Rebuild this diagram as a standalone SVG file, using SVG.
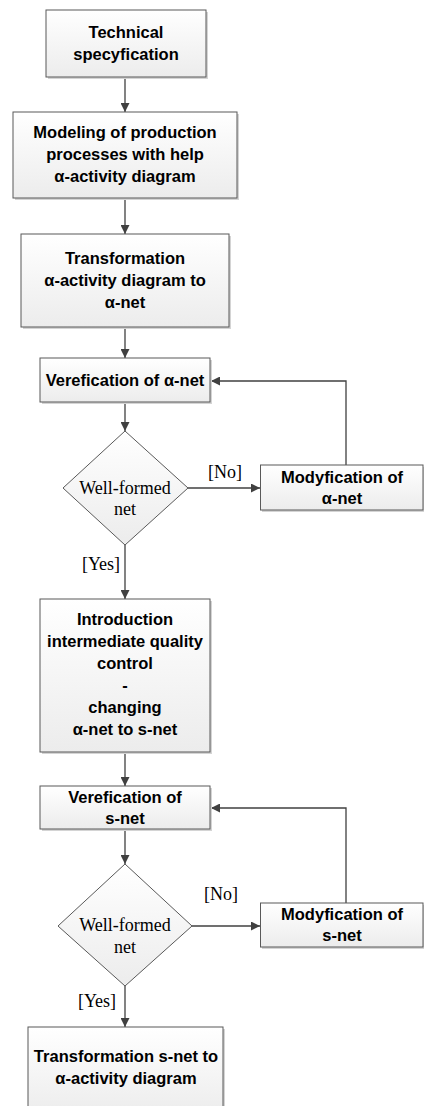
<svg xmlns="http://www.w3.org/2000/svg" width="424" height="1106" viewBox="0 0 424 1106">
<defs>
<linearGradient id="g" x1="0" y1="0" x2="0" y2="1">
<stop offset="0" stop-color="#ffffff"/>
<stop offset="1" stop-color="#ececec"/>
</linearGradient>
<marker id="ah" viewBox="0 0 10 10" refX="10" refY="5" markerWidth="9" markerHeight="9" markerUnits="userSpaceOnUse" orient="auto">
<path d="M0,0 L10,5 L0,10 z" fill="#404040"/>
</marker>
<style>
.box{fill:url(#g);stroke:#595959;stroke-width:1}
.sh{fill:#d4d4d4}
.t{font-family:"Liberation Sans",Arial,sans-serif;font-weight:bold;font-size:16.5px;fill:#000;text-anchor:middle}
.s{font-family:"Liberation Serif","Times New Roman",serif;font-size:18px;fill:#000;text-anchor:middle}
.c{fill:none;stroke:#404040;stroke-width:1.3;marker-end:url(#ah)}
</style>
</defs>
<rect width="424" height="1106" fill="#fff"/>
<g id="connectors">
<path class="c" d="M125,77 V112"/>
<path class="c" d="M125,198 V234"/>
<path class="c" d="M125,328 V358"/>
<path class="c" d="M125,402 V431"/>
<path class="c" d="M188,488 H260"/>
<path class="c" d="M346,465 V381 H211"/>
<path class="c" d="M125,545 V599"/>
<path class="c" d="M125,752 V786"/>
<path class="c" d="M125,829 V864"/>
<path class="c" d="M192,926 H260"/>
<path class="c" d="M346,903 V808 H211"/>
<path class="c" d="M125,986 V1027"/>
<text class="s" x="225" y="478">[No]</text>
<text class="s" x="101" y="570">[Yes]</text>
<text class="s" x="221" y="900">[No]</text>
<text class="s" x="97" y="1007">[Yes]</text>
</g>
<g id="n1">
<rect class="sh" x="48" y="12" width="160" height="67"/>
<rect class="box" x="46" y="10" width="160" height="67"/>
<text class="t" x="126" y="38">Technical</text>
<text class="t" x="126" y="59.5">specyfication</text>
</g>
<g id="n2">
<rect class="sh" x="15" y="114" width="224" height="86"/>
<rect class="box" x="13" y="112" width="224" height="86"/>
<text class="t" x="125" y="137.5">Modeling of production</text>
<text class="t" x="125" y="159.5">processes with help</text>
<text class="t" x="125" y="181.5">α-activity diagram</text>
</g>
<g id="n3">
<rect class="sh" x="23" y="236" width="208" height="93"/>
<rect class="box" x="21" y="234" width="208" height="93"/>
<text class="t" x="125" y="264">Transformation</text>
<text class="t" x="125" y="285.5">α-activity diagram to</text>
<text class="t" x="125" y="307.5">α-net</text>
</g>
<g id="n4">
<rect class="sh" x="42" y="360" width="170" height="44"/>
<rect class="box" x="40" y="358" width="170" height="44"/>
<text class="t" x="125" y="386">Verefication of α-net</text>
</g>
<g id="d1">
<polygon points="125,431 188,488 125,545 63,488" fill="url(#g)" stroke="#595959" stroke-width="1"/>
<text class="s" x="125" y="493.5">Well-formed</text>
<text class="s" x="125" y="514.5">net</text>
</g>
<g id="m1">
<rect class="sh" x="262" y="467" width="163" height="45"/>
<rect class="box" x="260.5" y="465" width="162.5" height="45"/>
<text class="t" x="342" y="483">Modyfication of</text>
<text class="t" x="342" y="503.5">α-net</text>
</g>
<g id="n5">
<rect class="sh" x="42" y="601" width="170" height="153"/>
<rect class="box" x="40" y="599" width="170" height="153"/>
<text class="t" x="125" y="625">Introduction</text>
<text class="t" x="125" y="647">intermediate quality</text>
<text class="t" x="125" y="669">control</text>
<text class="t" x="125" y="690.5">-</text>
<text class="t" x="125" y="712.5">changing</text>
<text class="t" x="125" y="734.5">α-net to s-net</text>
</g>
<g id="n6">
<rect class="sh" x="42" y="788" width="170" height="43"/>
<rect class="box" x="40" y="786" width="170" height="43"/>
<text class="t" x="125" y="803">Verefication of</text>
<text class="t" x="125" y="823.5">s-net</text>
</g>
<g id="d2">
<polygon points="125,864 192,926 125,986 58,926" fill="url(#g)" stroke="#595959" stroke-width="1"/>
<text class="s" x="125" y="930.5">Well-formed</text>
<text class="s" x="125" y="952.5">net</text>
</g>
<g id="m2">
<rect class="sh" x="262" y="905" width="163" height="44"/>
<rect class="box" x="260.5" y="903" width="162.5" height="44"/>
<text class="t" x="342" y="919.5">Modyfication of</text>
<text class="t" x="342" y="941">s-net</text>
</g>
<g id="n7">
<rect class="sh" x="30" y="1029" width="195" height="90"/>
<rect class="box" x="28" y="1027" width="195" height="90"/>
<text class="t" x="126" y="1062">Transformation s-net to</text>
<text class="t" x="126" y="1083.5">α-activity diagram</text>
</g>
</svg>
